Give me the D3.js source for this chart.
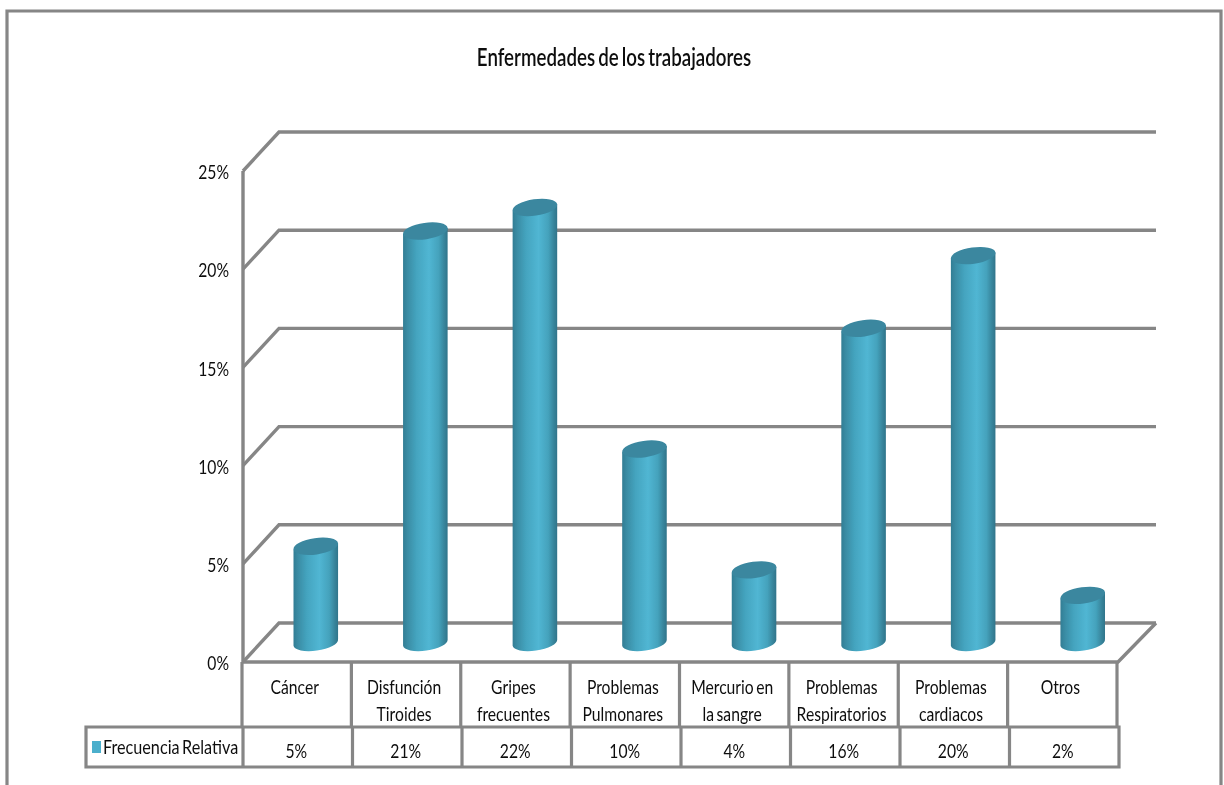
<!DOCTYPE html>
<html>
<head>
<meta charset="utf-8">
<script src="https://cdn.jsdelivr.net/npm/d3@7"></script>
<style>
  html, body { margin: 0; padding: 0; background: #fff; overflow: hidden; }
  text { font-family: Lato, "Open Sans", sans-serif; fill: #111; word-spacing: -2px; }
</style>
</head>
<body>
<div id="vis-container"></div>
<script>
var titleText = "Enfermedades de los trabajadores";
var seriesName = "Frecuencia Relativa";

var categories = ["Cáncer", "Disfunción Tiroides", "Gripes frecuentes", "Problemas Pulmonares",
  "Mercurio en la sangre", "Problemas Respiratorios", "Problemas cardiacos", "Otros"];
// label lines in the table, same order as categories
var categoryLines = [["Cáncer"], ["Disfunción", "Tiroides"], ["Gripes", "frecuentes"], ["Problemas", "Pulmonares"],
  ["Mercurio en", "la sangre"], ["Problemas", "Respiratorios"], ["Problemas", "cardiacos"], ["Otros"]];
// bar heights
var values = [4.9, 20.95, 22.15, 9.85, 3.7, 16, 19.7, 2.4];
// what the table prints
var tableLabels = ["5%", "21%", "22%", "10%", "4%", "16%", "20%", "2%"];
var yTicks = [0, 5, 10, 15, 20, 25];

var width = 1224, height = 785;
var gray = "#868686";
var textSquish = 0.785;

var svg = d3.select("#vis-container").append("svg")
  .attr("width", width)
  .attr("height", height)
  .style("display", "block");

var defs = svg.append("defs");
var grad = defs.append("linearGradient").attr("id", "barGrad");
grad.selectAll("stop")
  .data([[0, "#327d94"], [0.1, "#3a8ca4"], [0.3, "#44a4bf"], [0.58, "#51b6d3"], [0.8, "#44a2bc"], [0.92, "#38859c"], [1, "#30748a"]])
  .enter().append("stop")
  .attr("offset", function (d) { return d[0]; })
  .attr("stop-color", function (d) { return d[1]; });
defs.append("filter").attr("id", "soft")
  .attr("x", 0).attr("y", 0).attr("width", 1).attr("height", 1)
  .attr("filterUnits", "userSpaceOnUse")
  .attr("width", width).attr("height", height)
  .append("feGaussianBlur").attr("stdDeviation", 0.7);

var root = svg.append("g").attr("filter", "url(#soft)");

// scales: front wall of the 3d box, table columns and the bars standing further back
var y = d3.scaleLinear().domain([0, 25]).range([662, 171]);
var x = d3.scaleBand().domain(categories).range([242, 1117]);
var xRow = d3.scaleBand().domain(categories).range([243, 1119]);
var xBar = d3.scaleBand().domain(categories).range([261, 1137.5]);
var wallLeft = 243, wallRight = 1118;
var depthX = 36, depthY = 39;

// squeezed text, the original looks horizontally compressed
function putText(g, str, px, py, size, anchor, weight, sx) {
  return g.append("text")
    .attr("transform", "translate(" + px + "," + py + ") scale(" + (sx || textSquish) + ",1)")
    .attr("text-anchor", anchor || "middle")
    .attr("font-size", size)
    .attr("font-weight", weight || 400)
    .text(str);
}

// outer frame, bottom is cut off
root.append("path")
  .attr("d", "M7,785V11H1221V785")
  .attr("fill", "none")
  .attr("stroke", gray)
  .attr("stroke-width", 3.2);

putText(root, titleText, 614, 66, 24, "middle", 600, 0.78);

// back grid lines with the diagonals on the left wall
var grid = root.append("g").attr("fill", "none").attr("stroke", gray).attr("stroke-width", 3.4);
grid.selectAll("path.level")
  .data(yTicks)
  .enter().append("path")
  .attr("class", "level")
  .attr("d", function (d) {
    return "M" + wallLeft + "," + y(d) + "L" + (wallLeft + depthX) + "," + (y(d) - depthY) + "H1156";
  });
// wall edge and floor
grid.append("path").attr("d", "M" + wallLeft + "," + y(25) + "V" + y(0) + "H" + wallRight + "L1156," + (y(0) - depthY));

// y axis
var yAxis = d3.axisLeft(y).tickValues(yTicks).tickSize(0)
  .tickFormat(function (d) { return d + "%"; });
var axisG = root.append("g").attr("transform", "translate(229,0.5)").call(yAxis);
axisG.select(".domain").remove();
axisG.selectAll(".tick text")
  .attr("x", 0)
  .attr("dy", "0.36em")
  .attr("text-anchor", "end")
  .attr("font-size", 20)
  .attr("transform", "scale(" + textSquish + ",1)");
axisG.attr("font-family", null).attr("font-size", null);

// cylinders
var rx = 22.5, ry = 8.2, tilt = -8;
var dx = rx * Math.cos(tilt * Math.PI / 180);
var dy = rx * Math.sin(tilt * Math.PI / 180);
var baseY = y(0) - 19.5;
function barTop(d) { return baseY - (y(0) - y(d)); }
function barCx(c) { return xBar(c) + xBar.bandwidth() / 2; }

var bars = root.selectAll("g.bar")
  .data(categories.map(function (c, i) { return { cat: c, v: values[i] }; }))
  .enter().append("g")
  .attr("class", "bar");
bars.append("path")
  .attr("fill", "url(#barGrad)")
  .attr("d", function (d) {
    var cx = barCx(d.cat), t = barTop(d.v);
    return "M" + (cx - dx) + "," + (t - dy) + "V" + (baseY - dy) +
      "A" + rx + "," + ry + " " + tilt + " 0 0 " + (cx + dx) + "," + (baseY + dy) +
      "V" + (t + dy) + "Z";
  });
bars.append("ellipse")
  .attr("rx", rx)
  .attr("ry", ry)
  .attr("fill", "#3a879f")
  .attr("transform", function (d) {
    return "translate(" + barCx(d.cat) + "," + barTop(d.v) + ") rotate(" + tilt + ")";
  });

// data table
var rowTop = y(0), rowMid = 727, rowBottom = 767, legendLeft = 86;
var table = root.append("g").attr("fill", "none").attr("stroke", gray).attr("stroke-width", 3.2);
table.append("path").attr("d", "M" + legendLeft + "," + rowMid + "H" + xRow.range()[1] + "V" + rowBottom + "H" + legendLeft + "Z");
table.selectAll("line.upper")
  .data(categories.concat(["end"]))
  .enter().append("line")
  .attr("class", "upper")
  .attr("x1", function (c, i) { return i < categories.length ? x(c) : x.range()[1]; })
  .attr("x2", function (c, i) { return i < categories.length ? x(c) : x.range()[1]; })
  .attr("y1", rowTop)
  .attr("y2", rowMid);
table.selectAll("line.lower")
  .data(categories)
  .enter().append("line")
  .attr("class", "lower")
  .attr("x1", function (c) { return xRow(c); })
  .attr("x2", function (c) { return xRow(c); })
  .attr("y1", rowMid)
  .attr("y2", rowBottom);

categories.forEach(function (c, i) {
  categoryLines[i].forEach(function (line, j) {
    putText(root, line, x(c) + x.bandwidth() / 2 - 2, 694 + j * 27, 20);
  });
  putText(root, tableLabels[i], xRow(c) + xRow.bandwidth() / 2 - 1.5, 758, 20);
});

// legend cell
root.append("rect")
  .attr("x", 92).attr("y", 741).attr("width", 9).attr("height", 12)
  .attr("fill", "#4bafcc");
putText(root, seriesName, 103, 754, 20, "start", 400, 0.81);
</script>
</body>
</html>
